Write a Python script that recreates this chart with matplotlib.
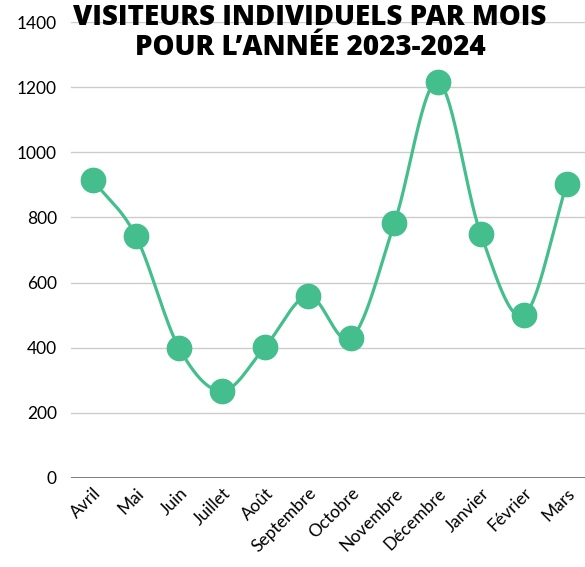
import matplotlib.pyplot as plt
import numpy as np

mois = ['Avril', 'Mai', 'Juin', 'Juillet', 'Août', 'Septembre', 'Octobre',
        'Novembre', 'Décembre', 'Janvier', 'Février', 'Mars']
visiteurs = [915, 743, 400, 267, 403, 560, 430, 783, 1217, 750, 500, 903]
yticks = [0, 200, 400, 600, 800, 1000, 1200, 1400]

vert = '#43be8c'

plt.rcParams['font.family'] = ['Lato', 'DejaVu Sans']


def catmull_rom(x, y, n=30):
    # smooth curve through the points, like the original chart
    x = np.asarray(x, float)
    y = np.asarray(y, float)
    px = np.concatenate([[2*x[0]-x[1]], x, [2*x[-1]-x[-2]]])
    py = np.concatenate([[2*y[0]-y[1]], y, [2*y[-1]-y[-2]]])
    xs, ys = [], []
    t = np.linspace(0, 1, n)
    for i in range(1, len(px)-2):
        for p, out in ((px, xs), (py, ys)):
            p0, p1, p2, p3 = p[i-1], p[i], p[i+1], p[i+2]
            out.extend(0.5*((2*p1) + (-p0+p2)*t + (2*p0-5*p1+4*p2-p3)*t**2
                            + (-p0+3*p1-3*p2+p3)*t**3))
    return np.array(xs), np.array(ys)


fig = plt.figure(figsize=(5.85, 5.67), dpi=100)
ax = fig.add_axes([0.121, 0.157, 0.879, 0.804])

x = np.arange(len(mois))
sx, sy = catmull_rom(x, visiteurs)
ax.plot(sx, sy, color=vert, lw=2.3, zorder=3)
ax.plot(x, visiteurs, 'o', color=vert, markersize=17.5, zorder=4)

ax.set_ylim(0, 1400)
ax.set_xlim(-0.51, 11.42)
ax.set_yticks(yticks)
ax.set_yticklabels([str(v) for v in yticks], fontsize=12.5)
ax.set_xticks(x)
ax.set_xticklabels(mois, rotation=45, ha='right', rotation_mode='anchor', fontsize=12.5)
ax.tick_params(length=0, pad=10)
ax.tick_params(axis='x', pad=5)

for v in yticks[1:]:
    ax.axhline(v, color='#cccccc', lw=1, zorder=1)
ax.axhline(0, color='#666666', lw=1.2, zorder=2)
for s in ax.spines.values():
    s.set_visible(False)

fig.text(0.53, 0.995, 'VISITEURS INDIVIDUELS PAR MOIS\nPOUR L\u2019ANNÉE 2023-2024',
         ha='center', va='top', fontsize=20, fontweight=800, linespacing=1.05,
         family=['Open Sans', 'DejaVu Sans'])

fig.savefig('out.png', dpi=100)
